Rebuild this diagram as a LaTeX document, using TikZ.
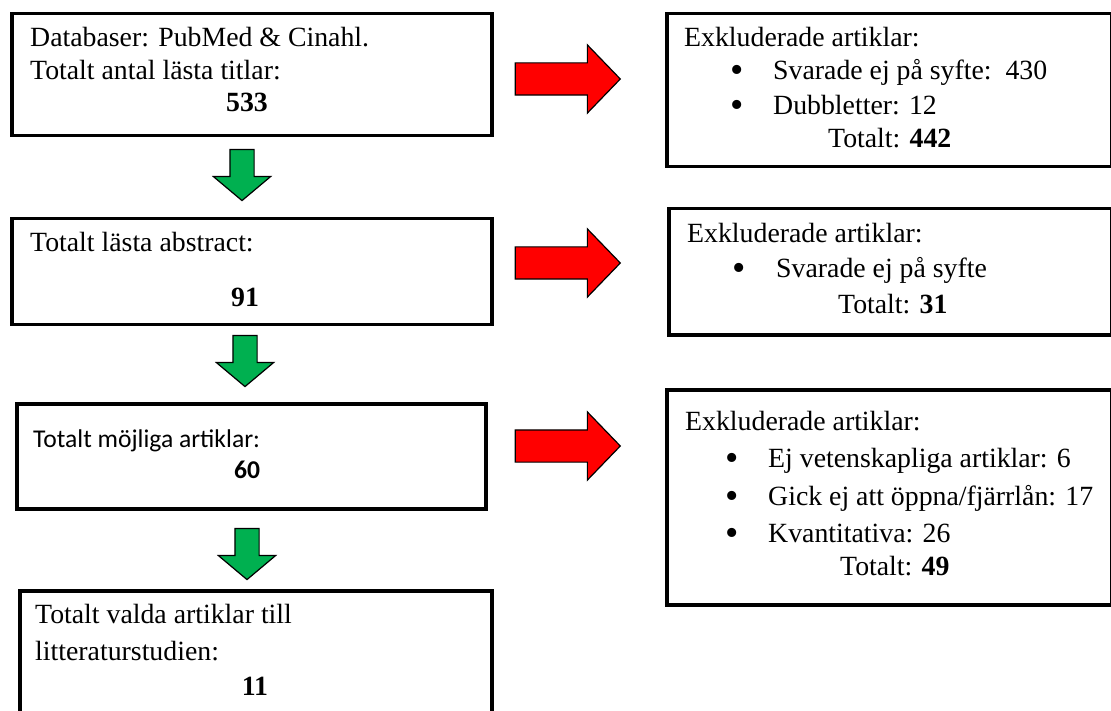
\documentclass[tikz,border=0pt]{standalone}
\usepackage{fontspec}
\setmainfont{Liberation Serif}
\newfontfamily\calibriFont{Carlito}
\usetikzlibrary{positioning,shapes.arrows}
\definecolor{exclRed}{RGB}{255,0,0}
\definecolor{stepGreen}{RGB}{0,176,80}
\tikzstyle{flow} = [x=1pt, y=-1pt]
\tikzstyle{boxStyle} = [draw=black, line width=3.5pt, anchor=north west, inner sep=0pt]
\tikzstyle{lineText} = [anchor=base west, inner sep=0pt, font=\fontsize{27.8}{33}\selectfont]
\tikzstyle{numText} = [anchor=base, inner sep=0pt, font=\fontsize{27.8}{33}\selectfont\bfseries]
\tikzstyle{sansText} = [anchor=base west, inner sep=0pt, font=\fontsize{25.6}{31}\calibriFont]
\tikzstyle{sansNum} = [anchor=base, inner sep=0pt, font=\fontsize{25.6}{31}\calibriFont\bfseries]
\tikzstyle{bulletDot} = [anchor=base west, inner sep=0pt, font=\fontsize{38}{33}\selectfont]
\tikzstyle{redArrow} = [single arrow, draw=black, fill=exclRed, line width=1.2pt, minimum height=105pt, inner xsep=0pt, inner ysep=15.5pt, single arrow head extend=18pt, single arrow tip angle=92]
\tikzstyle{greenArrow} = [single arrow, draw=black, fill=stepGreen, line width=1.2pt, minimum height=51pt, inner xsep=0pt, inner ysep=11.5pt, single arrow head extend=16.5pt, single arrow tip angle=100, rotate=-90]
\newcommand{\bulletAt}[2]{\node[bulletDot] at (#1,#2) {\textbullet};}

\begin{document}
\begin{tikzpicture}[flow]
  \useasboundingbox (0,0) rectangle (1111,711);

  % left column
  \node[boxStyle, minimum width=480pt, minimum height=122pt] (titles) at (10,12) {};
  \node[lineText] (dbLine) at (30,47) {Databaser: PubMed \& Cinahl.};
  \node[lineText] (titlesLine) at (30,80) {Totalt antal lästa titlar:};
  \node[numText] (titlesNum) at (247,112) {533};

  \node[boxStyle, minimum width=480pt, minimum height=106pt] (abstracts) at (10,217) {};
  \node[lineText] (abstractsLine) at (30,252) {Totalt lästa abstract:};
  \node[numText] (abstractsNum) at (245,306) {91};

  \node[boxStyle, minimum width=469pt, minimum height=105pt] (possible) at (15,402) {};
  \node[sansText] (possibleLine) at (33,447) {Totalt möjliga artiklar:};
  \node[sansNum] (possibleNum) at (247,478) {60};

  \node[boxStyle, minimum width=472pt, minimum height=140pt] (chosen) at (18,589) {};
  \node[lineText] (chosenLine) at (35,623) {Totalt valda artiklar till};
  \node[lineText] (chosenLineB) at (35,660) {litteraturstudien:};
  \node[numText] (chosenNum) at (255,695) {11};

  % green steps
  \node[greenArrow] (stepA) at (242,170) {};
  \node[greenArrow] (stepB) at (245,356) {};
  \node[greenArrow] (stepC) at (247,549) {};

  % red exclusions
  \node[redArrow] (exclA) at (560,79) {};
  \node[redArrow] (exclB) at (560,263) {};
  \node[redArrow] (exclC) at (560,446) {};

  % right column
  \node[boxStyle, minimum width=445pt, minimum height=153pt] (excludedA) at (665,12) {};
  \node[lineText] at (684,47) {Exkluderade artiklar:};
  \bulletAt{730}{83}
  \node[lineText] at (773,80) {Svarade ej på syfte:\ \ 430};
  \bulletAt{730}{118}
  \node[lineText] at (773,115) {Dubbletter: 12};
  \node[lineText] at (828,148) {Totalt: \textbf{442}};

  \node[boxStyle, minimum width=443pt, minimum height=126pt] (excludedB) at (667,207) {};
  \node[lineText] at (687,243) {Exkluderade artiklar:};
  \bulletAt{732}{281}
  \node[lineText] at (776,278) {Svarade ej på syfte};
  \node[lineText] at (838,313) {Totalt: \textbf{31}};

  \node[boxStyle, minimum width=445pt, minimum height=215pt] (excludedC) at (665,388) {};
  \node[lineText] at (685,430) {Exkluderade artiklar:};
  \bulletAt{725}{470}
  \node[lineText] at (768,467) {Ej vetenskapliga artiklar: 6};
  \bulletAt{725}{508}
  \node[lineText] at (768,505) {Gick ej att öppna/fjärrlån: 17};
  \bulletAt{725}{545}
  \node[lineText] at (768,542) {Kvantitativa: 26};
  \node[lineText] at (840,575) {Totalt: \textbf{49}};
\end{tikzpicture}
\end{document}
